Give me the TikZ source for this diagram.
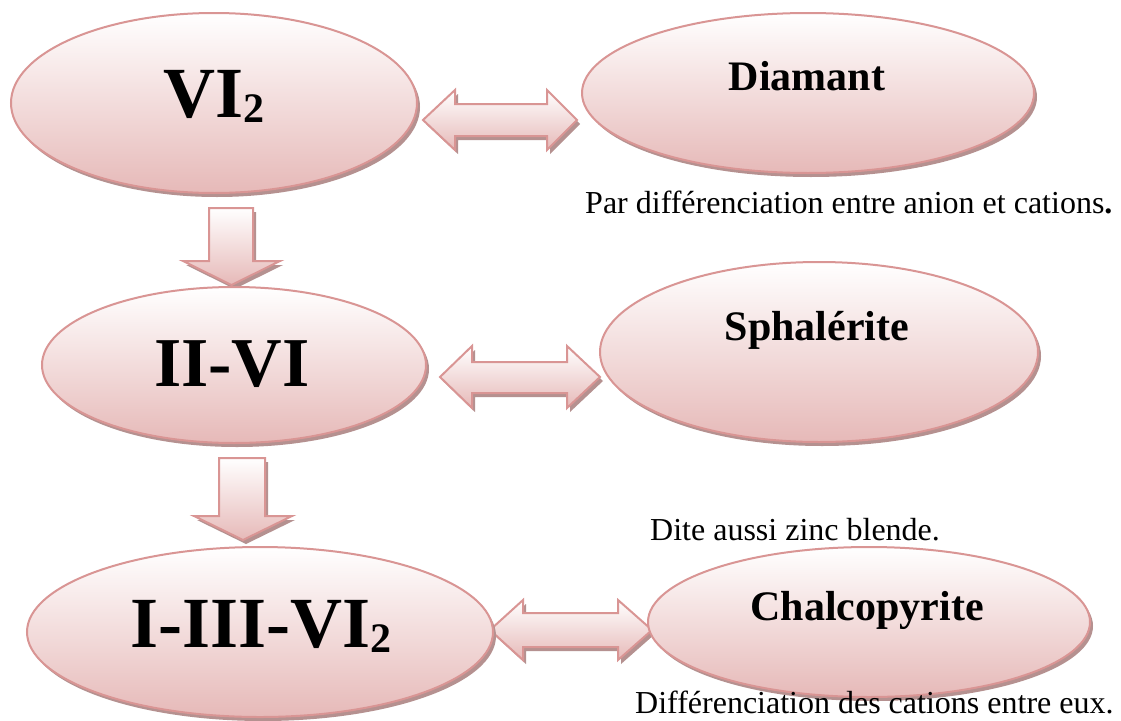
\documentclass[tikz,border=0pt]{standalone}
\usepackage{graphicx}
\usepackage{fontspec}
\setmainfont{Liberation Serif}
\usetikzlibrary{shapes.geometric,shadows}
\definecolor{edgec}{HTML}{D99594}
\definecolor{fillb}{HTML}{E6B9B8}
\definecolor{shadc}{HTML}{B59190}
\tikzset{
  shad/.style={drop shadow={shadow xshift=3pt,shadow yshift=-4pt,fill=shadc,opacity=1}},
  bubble/.style={ellipse, draw=edgec, line width=2pt, top color=white, bottom color=fillb, shad, inner sep=0pt},
  blockarrow/.style={draw=edgec, line width=2pt, top color=white, bottom color=fillb, shad, line join=miter},
  bigtxt/.style={font=\bfseries\fontsize{72}{72}\selectfont, anchor=base, inner sep=0pt},
  midtxt/.style={font=\bfseries\fontsize{42}{42}\selectfont, anchor=base, inner sep=0pt},
  note/.style={font=\fontsize{32}{32}\selectfont, anchor=base west, inner sep=0pt},
}
\begin{document}
\begin{tikzpicture}[x=1pt,y=-1pt]
\useasboundingbox (0,0) rectangle (1121,720);
\fill[white] (0,0) rectangle (1121,720);
% block arrows
\draw[blockarrow] (209,208) -- (253,208) -- (253,261) -- (280,261) -- (231.5,285) -- (183,261) -- (209,261) -- cycle;
\draw[blockarrow] (219,458) -- (265,458) -- (265,516) -- (292,516) -- (243,540) -- (194,516) -- (219,516) -- cycle;
\draw[blockarrow] (423,120) -- (455,90) -- (455,104) -- (547,104) -- (547,90) -- (577,120) -- (547,150) -- (547,136) -- (455,136) -- (455,150) -- cycle;
\draw[blockarrow] (440,377) -- (472,346) -- (472,362) -- (567,362) -- (567,346) -- (600,377) -- (567,408) -- (567,393) -- (472,393) -- (472,408) -- cycle;
\draw[blockarrow] (490,630) -- (523,600) -- (523,613) -- (618,613) -- (618,600) -- (652,630) -- (618,660) -- (618,647) -- (523,647) -- (523,660) -- cycle;
% ellipses
\node[bubble, minimum width=406, minimum height=180] (vi2) at (214,103) {};
\node[bubble, minimum width=452, minimum height=160] (diam) at (808,93) {};
\node[bubble, minimum width=384, minimum height=156] (iivi) at (234,365) {};
\node[bubble, minimum width=438, minimum height=180] (sphal) at (819,352) {};
\node[bubble, minimum width=466, minimum height=170] (ciii) at (260,632) {};
\node[bubble, minimum width=442, minimum height=150] (chalco) at (869,622) {};
% texts
\node[bigtxt] (t1) at (214,117) {VI\raisebox{-5pt}{\fontsize{42}{42}\selectfont 2}};
\node[bigtxt, font=\bfseries\fontsize{70}{70}\selectfont] (t3) at (232,386) {II-VI};
\node[bigtxt] (t5) at (261,647) {I-III-VI\raisebox{-5pt}{\fontsize{42}{42}\selectfont 2}};
\node[midtxt] (t2) at (807,90) {Diamant};
\node[midtxt] (t4) at (817,340) {Sphalérite};
\node[midtxt] (t6) at (867,620) {Chalcopyrite};
\node[note] (n1) at (585,213) {Par différenciation entre anion et cations\textbf{.}};
\node[note] (n2) at (650,540) {Dite aussi zinc blende.};
\node[note] (n3) at (635,713) {Différenciation des cations entre eux.};
\end{tikzpicture}
\end{document}
